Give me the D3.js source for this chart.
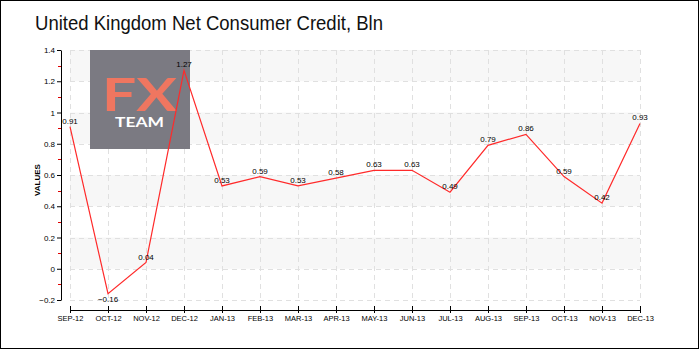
<!DOCTYPE html>
<html><head><meta charset="utf-8">
<script src="https://cdn.jsdelivr.net/npm/d3@7"></script>
<style>body{margin:0;background:#fff}svg{display:block}</style>
</head><body>
<svg id="c" width="700" height="350"></svg>
<script>
const categories = ["SEP-12","OCT-12","NOV-12","DEC-12","JAN-13","FEB-13","MAR-13","APR-13","MAY-13","JUN-13","JUL-13","AUG-13","SEP-13","OCT-13","NOV-13","DEC-13"];
const values = [0.91,-0.16,0.04,1.27,0.53,0.59,0.53,0.58,0.63,0.63,0.49,0.79,0.86,0.59,0.42,0.93];
const yTicks = [-0.2,0,0.2,0.4,0.6,0.8,1,1.2,1.4];
const yMinor = [-0.1,0.1,0.3,0.5,0.7,0.9,1.1,1.3];
const title = "United Kingdom Net Consumer Credit, Bln";

const svg = d3.select("#c");
const font = "'Liberation Sans', Arial, sans-serif";
svg.append("rect").attr("x",0.5).attr("y",0.5).attr("width",698).attr("height",348)
  .attr("fill","#fff").attr("stroke","#000");

const x = d3.scalePoint().domain(categories).range([70,640]);
const y = d3.scaleLinear().domain([-0.2,1.4]).range([300,50]);

// bands
const bands = [[1.2,1.4],[0.8,1.0],[0.4,0.6],[0,0.2]];
svg.selectAll(".band").data(bands).enter().append("rect")
  .attr("x",70).attr("width",570)
  .attr("y",d=>y(d[1])).attr("height",d=>y(d[0])-y(d[1]))
  .attr("fill","#f7f7f7");

// grid
svg.selectAll(".hg").data(yTicks).enter().append("line")
  .attr("x1",70).attr("x2",640).attr("y1",d=>Math.round(y(d))+0.5).attr("y2",d=>Math.round(y(d))+0.5)
  .attr("stroke","#e0e0e0").attr("stroke-dasharray","5,4");
svg.selectAll(".vg").data(categories).enter().append("line")
  .attr("x1",d=>Math.round(x(d))+0.5).attr("x2",d=>Math.round(x(d))+0.5).attr("y1",50).attr("y2",300)
  .attr("stroke","#e0e0e0").attr("stroke-dasharray","5,4");

// logo
const logo = svg.append("g");
logo.append("rect").attr("x",90).attr("y",50).attr("width",100).attr("height",99).attr("fill","#7b7a82");
logo.append("text").attr("x",102).attr("y",111).attr("textLength",75).attr("lengthAdjust","spacingAndGlyphs")
  .attr("font-family","Lato, 'Liberation Sans', sans-serif").attr("font-weight","bold").attr("font-size",46).attr("fill","#ef7660").text("FX");
logo.append("text").attr("x",115).attr("y",127).attr("textLength",49).attr("lengthAdjust","spacingAndGlyphs")
  .attr("font-family","Lato, 'Liberation Sans', sans-serif").attr("font-weight","bold").attr("font-size",13).attr("fill","#fff").text("TEAM");

// y axis
const yAxis = d3.axisLeft(y).tickValues(yTicks).tickSize(4).tickSizeOuter(0)
  .tickFormat(d=>d===0?"0":d3.format("")(+d.toFixed(1)));
const ga = svg.append("g").attr("transform","translate(61,0)").call(yAxis);
ga.select(".domain").attr("stroke","#000");
ga.selectAll("text").attr("font-family",font).attr("font-size",8).attr("fill","#000").attr("x",-6);
svg.selectAll(".ym").data(yMinor).enter().append("line")
  .attr("x1",58).attr("x2",61).attr("y1",d=>Math.round(y(d))+0.5).attr("y2",d=>Math.round(y(d))+0.5)
  .attr("stroke","#e00000");
svg.append("text").attr("transform","translate(40,180) rotate(-90)").attr("text-anchor","middle")
  .attr("font-family",font).attr("font-size",8).attr("font-weight","bold").text("VALUES");

// x axis
const xAxis = d3.axisBottom(x).tickSize(3).tickSizeOuter(0);
const gx = svg.append("g").attr("transform","translate(0,310)").call(xAxis);
gx.select(".domain").attr("stroke","#000");
gx.selectAll(".tick line").attr("y1",-4).attr("y2",3).attr("stroke","#000");
gx.selectAll("text").attr("font-family",font).attr("font-size",7.5).attr("fill","#000").attr("dy","0.6em").attr("y",6);

// line
const line = d3.line().x((d,i)=>x(categories[i])).y(d=>y(d));
svg.append("path").datum(values).attr("d",line).attr("fill","none").attr("stroke","#ff2a2a").attr("stroke-width",1.2);

// labels
svg.selectAll(".lbl").data(values).enter().append("text")
  .attr("x",(d,i)=>x(categories[i])).attr("y",d=>d<0?y(d)+8:y(d)-3)
  .attr("text-anchor","middle").attr("font-family",font).attr("font-size",8).attr("fill","#000")
  .text(d=>d3.format(".2f")(d));

// title
svg.append("text").attr("x",35).attr("y",30).attr("textLength",348).attr("lengthAdjust","spacingAndGlyphs")
  .attr("font-family","'Liberation Sans Narrow', 'Liberation Sans', sans-serif").attr("font-size",21).attr("fill","#111").text(title);
</script>
</body></html>
